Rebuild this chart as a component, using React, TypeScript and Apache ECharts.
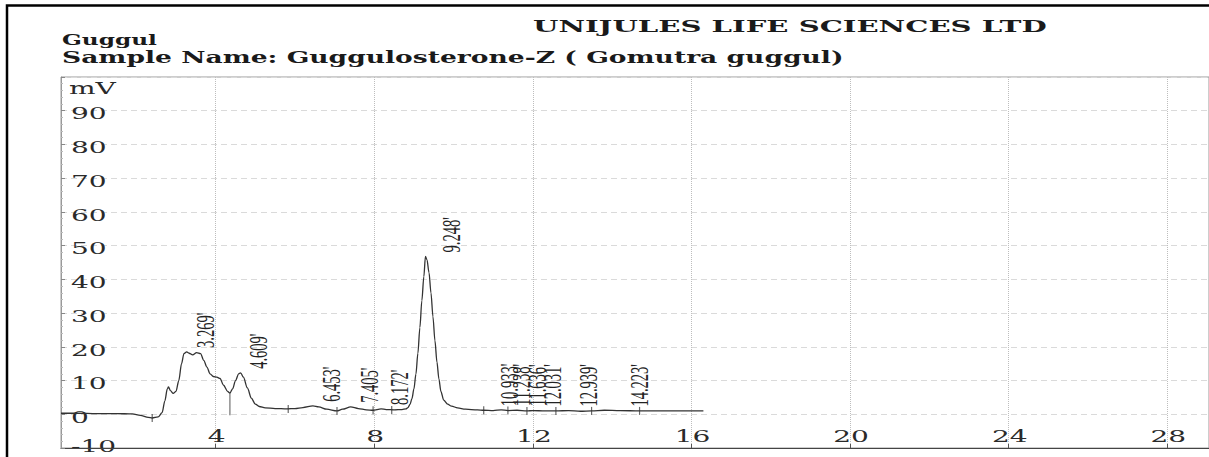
import React, { useEffect, useRef } from 'react';
import * as echarts from 'echarts';

const titleText = 'UNIJULES LIFE SCIENCES LTD';
const headerLine1 = 'Guggul';
const headerLine2 = 'Sample Name: Guggulosterone-Z ( Gomutra guggul)';
const yUnit = 'mV';

const xTickValues = [4, 8, 12, 16, 20, 24, 28];
const yTickValues = [-10, 0, 10, 20, 30, 40, 50, 60, 70, 80, 90];

// chromatogram trace (minutes, mV)
const traceX = [
  0.1, 0.5, 1.0, 1.5, 1.9, 2.1, 2.3, 2.4, 2.55, 2.65, 2.72, 2.78, 2.81, 2.86, 2.93,
  3.0, 3.07, 3.14, 3.2, 3.269, 3.33, 3.42, 3.52, 3.62, 3.7, 3.78, 3.86, 3.94, 4.03,
  4.11, 4.2, 4.3, 4.36, 4.43, 4.5, 4.58, 4.63, 4.7, 4.8, 4.9, 5.0, 5.1, 5.25, 5.5,
  5.8, 6.0, 6.2, 6.453, 6.6, 6.8, 7.06, 7.2, 7.405, 7.6, 7.8, 7.97, 8.172, 8.3, 8.5,
  8.7, 8.8, 8.85, 8.9, 8.95, 9.0, 9.05, 9.1, 9.15, 9.2, 9.25, 9.29, 9.33, 9.38, 9.43,
  9.48, 9.53, 9.58, 9.63, 9.68, 9.75, 9.85, 9.95, 10.1, 10.3, 10.6, 10.76, 11.0, 11.2,
  11.37, 11.6, 11.85, 12.0, 12.3, 12.58, 12.9, 13.2, 13.48, 13.8, 14.2, 14.69, 15.2,
  15.8, 16.3,
];
const traceY = [
  0.3, 0.3, 0.2, 0.2, 0.1, -0.3, -0.9, -1.1, -0.8, 0.5, 4.0, 7.5, 8.1, 7.0, 6.2,
  6.8, 10.0, 15.0, 18.0, 18.5, 18.1, 17.6, 18.3, 18.0, 16.0, 14.0, 12.0, 11.2, 11.0,
  10.6, 8.6, 6.8, 6.3, 7.6, 10.0, 12.0, 12.3, 11.0, 7.8, 4.8, 3.0, 2.3, 1.9, 1.7,
  1.6, 1.7, 2.0, 2.5, 2.2, 1.5, 1.0, 1.5, 2.2, 1.7, 1.3, 1.2, 1.6, 1.4, 1.3,
  1.4, 1.6, 2.0, 2.9, 4.6, 7.5, 11.9, 18.1, 25.7, 33.7, 40.8, 46.8, 45.8, 42.0, 36.0,
  28.9, 21.8, 15.5, 10.5, 6.8, 4.2, 3.0, 2.4, 1.9, 1.5, 1.3, 1.2, 1.1, 1.3,
  1.1, 1.2, 1.0, 1.1, 1.0, 1.0, 1.1, 0.9, 1.0, 1.2, 1.1, 1.0, 1.0,
  1.0, 1.0,
];

// labelled peaks
const peakTimes = [3.269, 4.609, 6.453, 7.405, 8.172, 9.248, 10.933, 11.238, 11.636, 12.031, 12.939, 14.223];
const peakHeights = [18.5, 12.3, 2.5, 2.2, 1.6, 46.8, 1.2, 1.3, 1.2, 1.1, 1.1, 1.1];

// integration markers
const markTimes = [2.4, 5.83, 7.06, 7.97, 8.44, 10.76, 11.37, 11.85, 12.58, 13.48, 14.69];
const markLevels = [-1.1, 1.6, 1.0, 1.2, 1.3, 1.2, 1.1, 1.0, 1.0, 1.0, 1.0];

// valley drop line
const dropTime = [4.36, 4.36];
const dropLevel = [6.3, -0.3];

export default function App() {
  const ref = useRef<HTMLDivElement>(null);

  useEffect(() => {
    if (!ref.current) return;
    const chart = echarts.init(ref.current, null, { renderer: 'svg' });
    const option: any = {
      animation: false,
      backgroundColor: '#ffffff',
      grid: { left: 61, right: -1, top: 77, bottom: 9, show: true, borderColor: '#9a9a9a', borderWidth: 1 },
      xAxis: {
        type: 'value',
        min: 0.1,
        max: 29.05,
        axisLine: { show: true, onZero: false, lineStyle: { color: '#444', width: 1.2 } },
        axisTick: { show: true, inside: true, length: 4, customValues: xTickValues, lineStyle: { color: '#555' } },
        axisLabel: { show: false, customValues: xTickValues },
        splitLine: { show: true, lineStyle: { type: 'dotted', color: '#bdbdbd', width: 1 } },
      },
      yAxis: {
        type: 'value',
        min: -10,
        max: 100,
        interval: 10,
        axisLine: { show: true, lineStyle: { color: '#999', width: 1 } },
        axisTick: { show: true, inside: true, length: 4, lineStyle: { color: '#888' } },
        minorTick: { show: true, splitNumber: 5, length: 2, lineStyle: { color: '#bbb' } },
        axisLabel: { show: false },
        splitLine: { show: true, lineStyle: { type: [6, 4], color: '#dadada', width: 1 } },
      },
      series: [
        {
          type: 'line',
          data: traceX.map((x, i) => [x, traceY[i]]),
          showSymbol: false,
          smooth: 0.3,
          smoothMonotone: 'x',
          lineStyle: { color: '#333', width: 1.3 },
          silent: true,
        },
        {
          type: 'line',
          data: dropTime.map((x, i) => [x, dropLevel[i]]),
          showSymbol: false,
          lineStyle: { color: '#555', width: 1 },
          silent: true,
        },
        {
          type: 'scatter',
          data: markTimes.map((x, i) => [x, markLevels[i]]),
          symbol: 'rect',
          symbolSize: [1.2, 8],
          itemStyle: { color: '#444' },
          silent: true,
        },
      ],
    };
    chart.setOption(option);

    const toPx = (x: number, y: number) => chart.convertToPixel({ gridIndex: 0 }, [x, y]) as number[];
    const tickFont = { fontSize: 16.5, fontFamily: 'DejaVu Serif', fill: '#2a2a2a' };
    const graphics: any[] = [];

    graphics.push({
      type: 'rect', silent: true,
      shape: { x: 7, y: 5.5, width: 1400, height: 700 },
      style: { fill: 'none', stroke: '#000', lineWidth: 2.5 },
    });
    graphics.push({
      type: 'text', x: 533, y: 27, scaleX: 1.82, silent: true,
      style: { text: titleText, fontSize: 16, fontWeight: 'bold', fontFamily: 'DejaVu Serif', fill: '#1a1a1a', align: 'left', verticalAlign: 'middle', textAlign: 'left', textVerticalAlign: 'middle' },
    });
    graphics.push({
      type: 'text', x: 62, y: 40, scaleX: 1.66, silent: true,
      style: { text: headerLine1, fontSize: 14, fontWeight: 'bold', fontFamily: 'DejaVu Serif', fill: '#1a1a1a', align: 'left', verticalAlign: 'middle', textAlign: 'left', textVerticalAlign: 'middle' },
    });
    graphics.push({
      type: 'text', x: 62, y: 57, scaleX: 1.66, silent: true,
      style: { text: headerLine2, fontSize: 16, fontWeight: 'bold', fontFamily: 'DejaVu Serif', fill: '#1a1a1a', align: 'left', verticalAlign: 'middle', textAlign: 'left', textVerticalAlign: 'middle' },
    });

    const top = toPx(0.1, 100);
    graphics.push({
      type: 'text', x: top[0] + 8, y: top[1] + 11, scaleX: 1.7, silent: true,
      style: { text: yUnit, ...tickFont, align: 'left', verticalAlign: 'middle', textAlign: 'left', textVerticalAlign: 'middle' },
    });
    yTickValues.forEach((v) => {
      const p = toPx(0.1, v);
      const dy = v === yTickValues[0] ? -2 : 3;
      graphics.push({
        type: 'text', x: p[0] + 10, y: p[1] + dy, scaleX: 1.7, silent: true,
        style: { text: String(v), ...tickFont, align: 'left', verticalAlign: 'middle', textAlign: 'left', textVerticalAlign: 'middle' },
      });
    });
    xTickValues.forEach((v) => {
      const p = toPx(v, -10);
      graphics.push({
        type: 'text', x: p[0] + 1, y: p[1] - 12, scaleX: 1.7, silent: true,
        style: { text: String(v), ...tickFont, align: 'center', verticalAlign: 'middle', textAlign: 'center', textVerticalAlign: 'middle' },
      });
    });
    const tallest = Math.max(...peakHeights);
    peakTimes.forEach((t, i) => {
      const p = toPx(t, peakHeights[i]);
      const dx = peakHeights[i] === tallest ? 14 : 5;
      graphics.push({
        type: 'text', x: p[0] + dx, y: p[1] - 4, rotation: Math.PI / 2, scaleY: 1.8, silent: true,
        style: { text: t.toFixed(3) + "'", fontSize: 14.5, fontFamily: 'Liberation Serif', fill: '#222', align: 'left', verticalAlign: 'top', textAlign: 'left', textVerticalAlign: 'top' },
      });
    });

    chart.setOption({ graphic: { elements: graphics } });
    return () => chart.dispose();
  }, []);

  return <div ref={ref} style={{ position: 'fixed', left: 0, top: 0, width: 1209, height: 457, background: '#fff' }} />;
}
